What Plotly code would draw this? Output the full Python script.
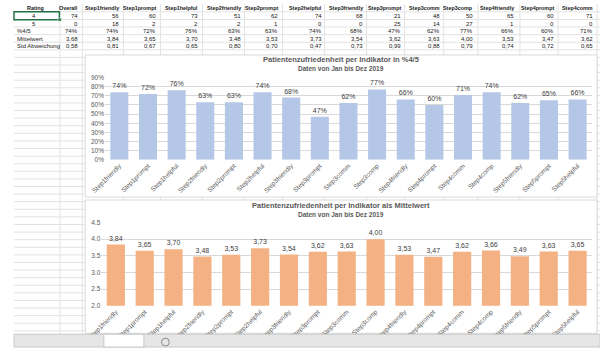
import plotly.graph_objects as go

# ---------------- data ----------------
categories = ["Step1friendly", "Step1prompt", "Step1helpful", "Step2friendly", "Step2prompt",
              "Step2helpful", "Step3friendly", "Step3prompt", "Step3comm", "Step3comp",
              "Step4friendly", "Step4prompt", "Step4comm", "Step4comp", "Step5friendly",
              "Step5prompt", "Step5helpful"]
pct_45 = [74, 72, 76, 63, 63, 74, 68, 47, 62, 77, 66, 60, 71, 74, 62, 65, 66]
mean_vals = [3.84, 3.65, 3.70, 3.48, 3.53, 3.73, 3.54, 3.62, 3.63, 4.00, 3.53, 3.47, 3.62,
             3.66, 3.49, 3.63, 3.65]

table_cols = ["Overall", "Step1friendly", "Step1prompt", "Step1helpful", "Step2friendly",
              "Step2prompt", "Step2helpful", "Step3friendly", "Step3prompt", "Step3comm",
              "Step3comp", "Step4friendly", "Step4prompt", "Step4comm"]
row_rating4 = [74, 56, 60, 73, 51, 62, 74, 68, 21, 48, 50, 65, 60, 71]
row_rating5 = [0, 18, 2, 2, 2, 1, 0, 0, 25, 14, 27, 1, 0, 0]
row_pct = [74, 74, 72, 76, 63, 63, 74, 68, 47, 62, 77, 66, 60, 71]
row_mean = [3.68, 3.84, 3.65, 3.70, 3.48, 3.53, 3.73, 3.54, 3.62, 3.63, 4.00, 3.53, 3.47, 3.62]
row_std = [0.58, 0.81, 0.67, 0.65, 0.80, 0.70, 0.47, 0.73, 0.99, 0.88, 0.79, 0.74, 0.72, 0.65]

FONT = "Liberation Sans"
W, H = 600, 350


def px(x):
    return x / W


def py(y):
    return 1 - y / H


def de(v):
    return f"{v:.2f}".replace(".", ",")


fig = go.Figure()

fig.add_trace(go.Bar(
    x=categories, y=[v / 100 for v in pct_45],
    text=[f"{v}%" for v in pct_45], textposition="outside", cliponaxis=False,
    textfont=dict(size=7, color="#404040", family=FONT),
    marker=dict(color="#b4c7e7", line=dict(width=0)),
    xaxis="x", yaxis="y", showlegend=False, hoverinfo="skip"))

fig.add_trace(go.Bar(
    x=categories, y=mean_vals,
    text=[de(v) for v in mean_vals], textposition="outside", cliponaxis=False,
    textfont=dict(size=7, color="#404040", family=FONT),
    marker=dict(color="#f4b183", line=dict(width=0)),
    xaxis="x2", yaxis="y2", showlegend=False, hoverinfo="skip"))

shapes = []
grid = "#e2e2e2"
# spreadsheet gridlines
y = 8.0
while y < 337:
    shapes.append(dict(type="line", xref="paper", yref="paper", x0=0, x1=1, y0=py(y), y1=py(y),
                       line=dict(color=grid, width=1), layer="below"))
    y += 7.75
col_edges = [47, 70, 112, 150, 193, 236, 275, 318, 361, 400, 440, 475, 518, 557, 597]
for cx in col_edges:
    shapes.append(dict(type="line", xref="paper", yref="paper", x0=px(cx), x1=px(cx),
                       y0=py(0), y1=py(337), line=dict(color=grid, width=1), layer="below"))
# chart panels
for (y0, y1) in [(52, 197), (200, 336)]:
    shapes.append(dict(type="rect", xref="paper", yref="paper", x0=px(73), x1=px(597),
                       y0=py(y1), y1=py(y0), fillcolor="white",
                       line=dict(color="#d9d9d9", width=1), layer="below"))
# selected cell
shapes.append(dict(type="rect", xref="paper", yref="paper", x0=px(0), x1=px(46.5),
                   y0=py(16), y1=py(8), line=dict(color="#217346", width=1.5), layer="above"))
shapes.append(dict(type="rect", xref="paper", yref="paper", x0=px(45), x1=px(48.5),
                   y0=py(17.5), y1=py(14.5), fillcolor="#217346",
                   line=dict(color="white", width=0.5), layer="above"))
# sheet tab bar
shapes.append(dict(type="rect", xref="paper", yref="paper", x0=0, x1=1, y0=0, y1=py(337),
                   fillcolor="#e6e6e6", line=dict(color="#c8c8c8", width=1), layer="above"))
shapes.append(dict(type="rect", xref="paper", yref="paper", x0=px(92), x1=px(133), y0=0, y1=py(337),
                   fillcolor="white", line=dict(color="#c8c8c8", width=1), layer="above"))
shapes.append(dict(type="circle", xref="paper", yref="paper", x0=px(151), x1=px(159),
                   y0=py(349), y1=py(341), line=dict(color="#8a8a8a", width=1), layer="above"))

ann = []
tf = dict(family=FONT, size=6, color="#202020")
tfb = dict(family=FONT, size=5.4, color="#202020", weight="bold")
right_edges = [68, 110, 147, 190, 234, 272, 317, 359, 398, 438, 472, 514, 555, 595]
row_y = [4, 12, 20, 28, 35.5, 43]


def add_text(x, yy, text, anchor, font):
    ann.append(dict(x=px(x), y=py(yy), xref="paper", yref="paper", text=text, showarrow=False,
                    xanchor=anchor, yanchor="middle", font=font))


add_text(22, row_y[0], "Rating", "center", tfb)
add_text(20, row_y[1], "4", "center", tf)
add_text(20, row_y[2], "5", "center", tf)
add_text(1, row_y[3], "%4/5", "left", tf)
add_text(1, row_y[4], "Mittelwert", "left", tf)
add_text(1, row_y[5], "Std Abweichung", "left", tf)
for i, r in enumerate(right_edges):
    add_text(r, row_y[0], table_cols[i], "right", tfb)
    add_text(r, row_y[1], str(row_rating4[i]), "right", tf)
    add_text(r, row_y[2], str(row_rating5[i]), "right", tf)
    add_text(r, row_y[3], f"{row_pct[i]}%", "right", tf)
    add_text(r, row_y[4], de(row_mean[i]), "right", tf)
    add_text(r, row_y[5], de(row_std[i]), "right", tf)
add_text(597.5, row_y[0], "S", "left", tfb)

# chart titles
titf = dict(family=FONT, size=7.5, color="#595959", weight="bold")
subf = dict(family=FONT, size=6.5, color="#595959", weight="bold")
add_text(335, 57, "Patientenzufriedenheit per Indikator in %4/5", "center", titf)
add_text(335, 65.5, "Daten von Jan bis Dez 2019", "center", subf)
add_text(335, 206, "Patientenzufriedenheit per Indikator als Mittelwert", "center", titf)
add_text(335, 214.5, "Daten von Jan bis Dez 2019", "center", subf)

axf = dict(family=FONT, size=6.5, color="#595959")
fig.update_layout(
    width=W, height=H, margin=dict(l=0, r=0, t=0, b=0),
    paper_bgcolor="white", plot_bgcolor="rgba(0,0,0,0)",
    bargap=0.37, shapes=shapes, annotations=ann,
    font=dict(family=FONT),
    xaxis=dict(domain=[px(93.2), px(591.7)], anchor="y", tickangle=-45, tickfont=axf,
               showgrid=False, showline=False, ticks="", ticklen=0),
    yaxis=dict(domain=[py(159), py(75)], anchor="x", range=[0, 0.9], dtick=0.1,
               tickformat=".0%", tickfont=dict(family=FONT, size=6.5, color="#595959"),
               gridcolor="#d9d9d9", gridwidth=1, zeroline=False, showline=False, ticks=""),
    xaxis2=dict(domain=[px(89.5), px(591.8)], anchor="y2", tickangle=-45, tickfont=axf,
                showgrid=False, showline=False, ticks="", ticklen=0),
    yaxis2=dict(domain=[py(308), py(223)], anchor="x2", range=[2, 4.5], dtick=0.5,
                tickformat=".1f", tickfont=dict(family=FONT, size=6.5, color="#595959"),
                gridcolor="#d9d9d9", gridwidth=1, zeroline=False, showline=False, ticks=""),
)

fig.write_html("out.html")
